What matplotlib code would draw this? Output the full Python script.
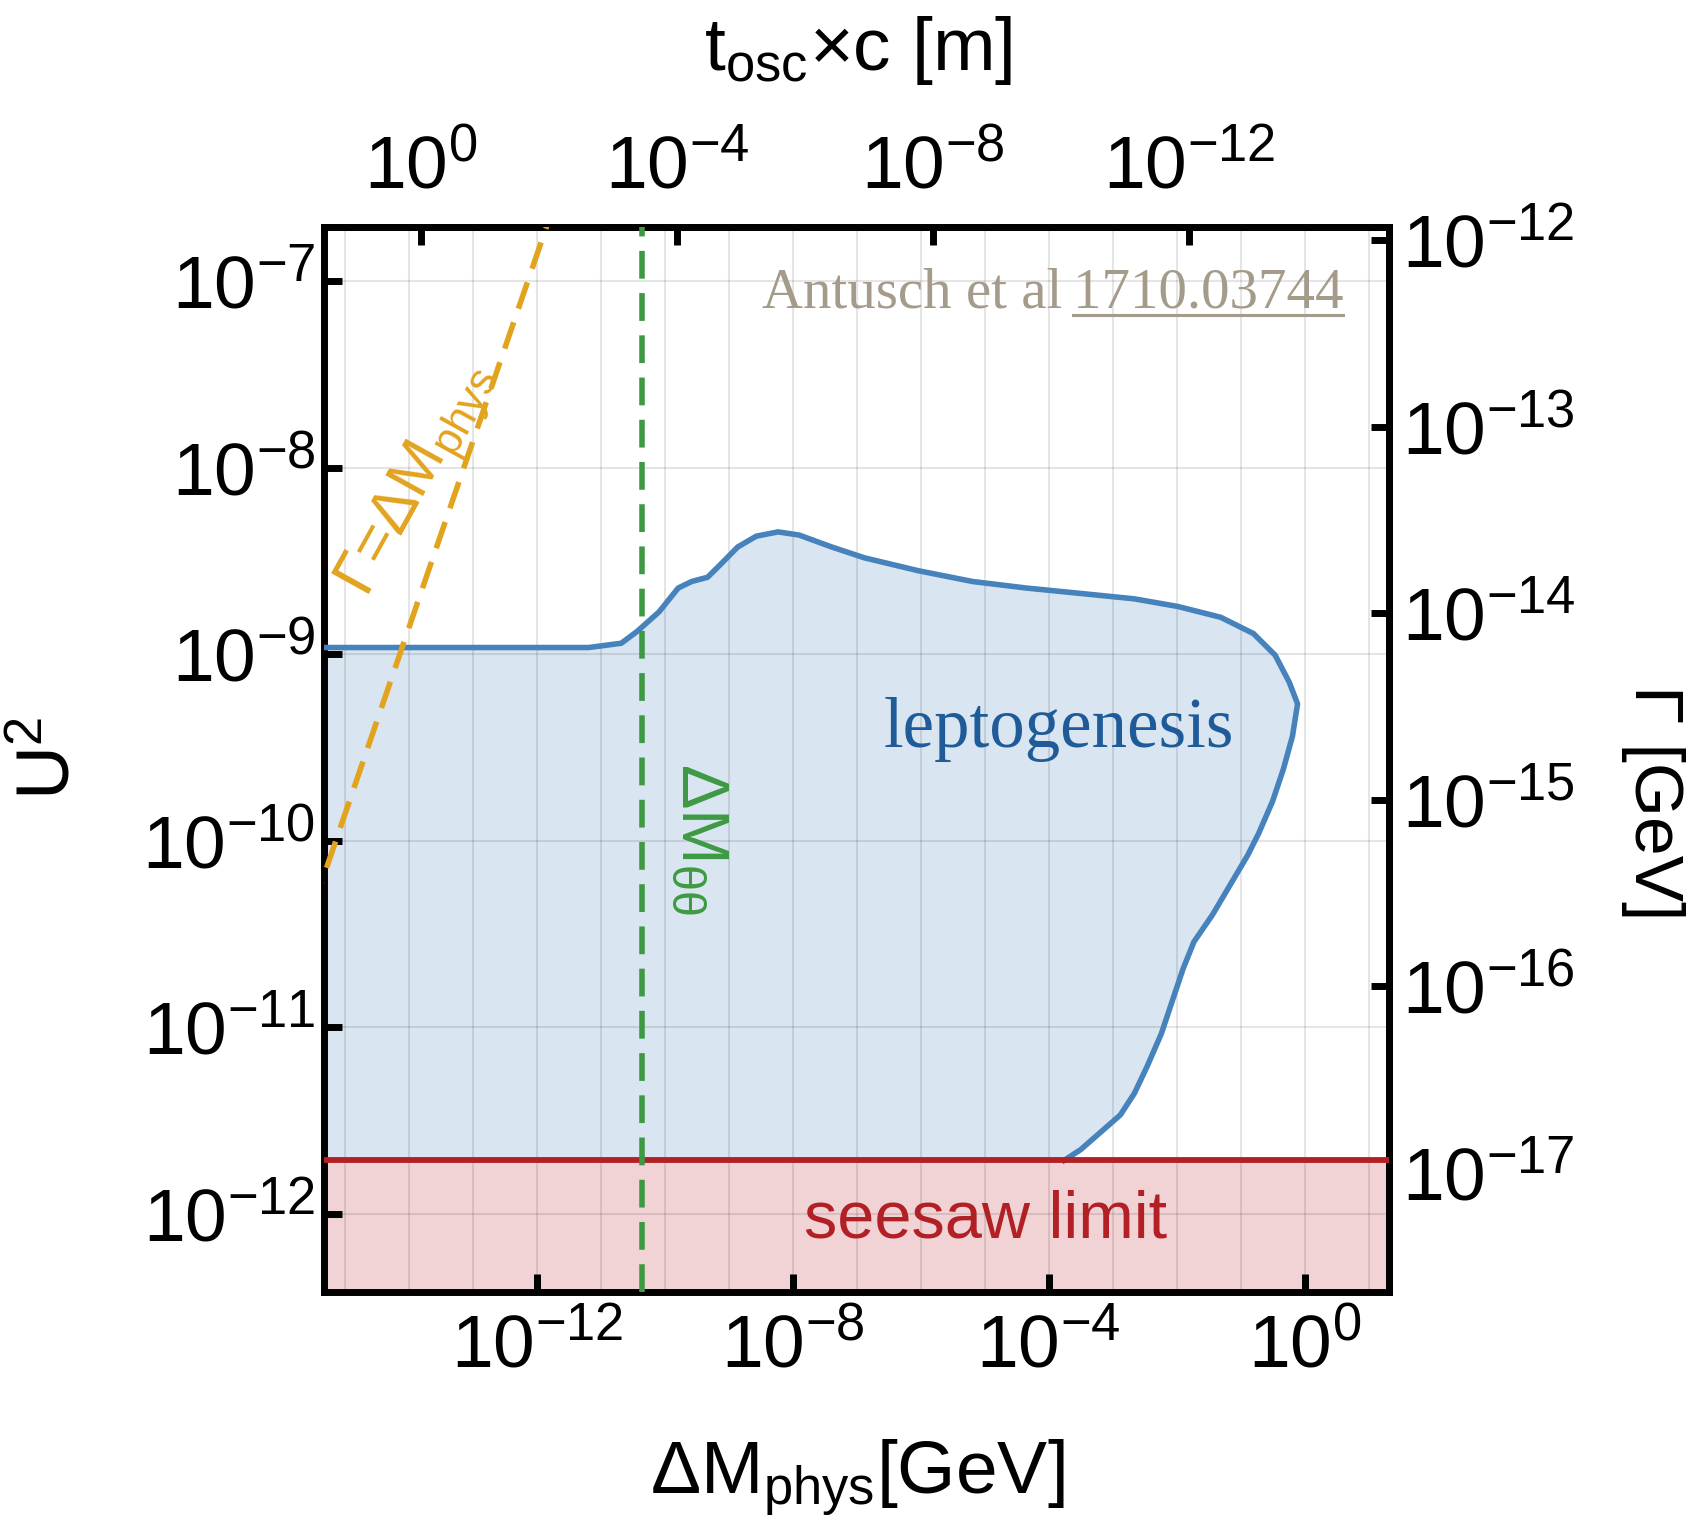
import numpy as np
import matplotlib
matplotlib.use("Agg")
import matplotlib.pyplot as plt
from matplotlib.ticker import FixedLocator, NullFormatter, NullLocator
from matplotlib.lines import Line2D

plt.rcParams['font.family'] = ['Liberation Sans', 'DejaVu Sans']
plt.rcParams['mathtext.fontset'] = 'custom'
plt.rcParams['mathtext.rm'] = 'Liberation Sans'
plt.rcParams['mathtext.it'] = 'Liberation Sans:italic'
plt.rcParams['mathtext.bf'] = 'Liberation Sans:bold'

# leptogenesis boundary, log10(dM_phys / GeV) and log10(U^2)
lepto_logdm = [-15.33, -11.19, -10.68, -10.43, -10.09, -9.79, -9.58, -9.33, -9.11,
               -8.86, -8.57, -8.23, -7.90, -7.39, -6.88, -6.04, -5.19, -4.35,
               -3.50, -2.66, -1.98, -1.31, -0.80, -0.46, -0.24, -0.11, -0.19,
               -0.33, -0.50, -0.72, -0.89, -1.14, -1.44, -1.73, -1.90, -2.07,
               -2.24, -2.46, -2.66, -2.88, -3.17, -3.50, -3.76]
lepto_logu2 = [-8.965, -8.965, -8.942, -8.878, -8.774, -8.646, -8.611, -8.588, -8.513,
               -8.426, -8.368, -8.345, -8.362, -8.426, -8.484, -8.553, -8.611, -8.646,
               -8.675, -8.704, -8.745, -8.803, -8.890, -9.006, -9.151, -9.267, -9.441,
               -9.615, -9.789, -9.963, -10.079, -10.224, -10.398, -10.543, -10.688, -10.862,
               -11.036, -11.210, -11.355, -11.471, -11.558, -11.657, -11.715]

seesaw_logu2 = -11.715
dm_thth_log = -10.36
gamma_line_logdm = [-15.5, -11.7]
gamma_line_logu2 = [-10.36, -6.56]

gamma_shift = -5.22    # log10(Gamma / U^2)
tosc_shift = -13.81    # log10(t_osc c * dM_phys)

xlim_log = (-15.33, 1.32)
ylim_log = (-12.42, -6.71)

x_ticks = [1e-12, 1e-8, 1e-4, 1e0]
top_ticks = [1e0, 1e-4, 1e-8, 1e-12]
y_ticks = [1e-12, 1e-11, 1e-10, 1e-9, 1e-8, 1e-7]
g_ticks = [1e-17, 1e-16, 1e-15, 1e-14, 1e-13, 1e-12]

blue = '#4682bb'
blue_fill = '#d9e5f0'
red = '#b22025'
red_fill = '#f1d3d5'
green = '#3d9a42'
orange = '#e2a41f'
gray_txt = '#a59b8b'

fig = plt.figure(figsize=(16.95, 15.23), dpi=100)
ax = fig.add_axes([0.191, 0.1517, 0.6285, 0.6993])
ax.set_xscale('log')
ax.set_yscale('log')
ax.set_xlim(10 ** xlim_log[0], 10 ** xlim_log[1])
ax.set_ylim(10 ** ylim_log[0], 10 ** ylim_log[1])

dm = 10 ** np.array(lepto_logdm)
u2 = 10 ** np.array(lepto_logu2)
seesaw = 10 ** seesaw_logu2

# regions
poly_x = np.concatenate([dm, [dm[0]]])
poly_y = np.concatenate([u2, [seesaw]])
ax.fill(poly_x, poly_y, color=blue_fill, lw=0, zorder=1)
ax.axhspan(10 ** ylim_log[0], seesaw, color=red_fill, lw=0, zorder=1)

ax.plot(dm, u2, color=blue, lw=4, zorder=3, solid_joinstyle='round')
ax.axhline(seesaw, color=red, lw=4.2, zorder=3)
ax.axvline(10 ** dm_thth_log, color=green, lw=4, dashes=(5, 2.6), zorder=4)
ax.plot(10 ** np.array(gamma_line_logdm), 10 ** np.array(gamma_line_logu2),
        color=orange, lw=4, dashes=(5, 2.6), zorder=4)

# grid on every decade
ax.xaxis.set_major_locator(FixedLocator(x_ticks))
ax.xaxis.set_minor_locator(FixedLocator([10.0 ** k for k in range(-15, 2)]))
ax.xaxis.set_minor_formatter(NullFormatter())
ax.yaxis.set_major_locator(FixedLocator(y_ticks))
ax.yaxis.set_minor_locator(NullLocator())
ax.grid(True, which='both', color='black', alpha=0.1, lw=1.5)
ax.set_axisbelow(False)

for s in ax.spines.values():
    s.set_linewidth(5)
ax.tick_params(which='major', direction='in', length=13, width=5, labelsize=54)
ax.tick_params(axis='x', which='major', pad=15)
ax.tick_params(axis='y', which='major', pad=6)
ax.tick_params(which='minor', length=0)

# secondary axes
top = ax.secondary_xaxis('top', functions=(lambda x: 10 ** tosc_shift / x,
                                            lambda t: 10 ** tosc_shift / t))
top.set_xticks(top_ticks)
top.xaxis.set_minor_locator(NullLocator())
top.tick_params(direction='in', length=13, width=5, labelsize=54, pad=17)
top.spines['top'].set_linewidth(5)

right = ax.secondary_yaxis('right', functions=(lambda u: u * 10 ** gamma_shift,
                                               lambda g: g / 10 ** gamma_shift))
right.set_yticks(g_ticks)
right.yaxis.set_minor_locator(NullLocator())
right.tick_params(direction='in', length=13, width=5, labelsize=54, pad=9)
right.spines['right'].set_linewidth(5)

# axis labels
fig.text(0.506, 0.954, r't$_{\mathregular{osc}}$×c [m]', fontsize=54, ha='center', va='baseline')
fig.text(0.506, 0.019, r'ΔM$_{\mathregular{phys}}$[GeV]', fontsize=54, ha='center', va='baseline')
fig.text(0.029, 0.502, r'U$^{\mathregular{2}}$', fontsize=54, ha='center', va='center', rotation=90)
fig.text(0.975, 0.473, 'Γ [GeV]', fontsize=50, ha='center', va='center', rotation=270)

# annotations
ax.text(10 ** -6.58, 10 ** -9.50, 'leptogenesis', family=['Liberation Serif'],
        fontsize=51, color='#1f5b99', ha='left', va='baseline', zorder=5)
ax.text(10 ** -4.99, 10 ** -12.13, 'seesaw limit', family=['Liberation Sans Narrow', 'Liberation Sans'],
        fontsize=48, color=red, ha='center', va='baseline', zorder=5)
ax.text(10 ** -9.45, 10 ** -9.586, r'ΔM$_{\mathregular{θθ}}$', fontsize=48, color=green,
        ha='center', va='top', rotation=-90, zorder=5)
ax.text(10 ** -13.85, 10 ** -8.07, r'Γ=ΔM$_{\mathregular{phys}}$', fontsize=45, color=orange,
        ha='center', va='center', rotation=61, rotation_mode='anchor', zorder=5)

ref = ax.text(0.957, 0.924, '1710.03744', family=['Liberation Serif'], fontsize=41,
              color=gray_txt, ha='right', va='baseline', transform=ax.transAxes, zorder=5)
fig.canvas.draw()
bb = ref.get_window_extent()
inv = ax.transAxes.inverted()
x0_ax = inv.transform((bb.x0, bb.y0))[0]
ax.text(x0_ax - 0.01, 0.924, 'Antusch et al', family=['Liberation Serif'], fontsize=41,
        color=gray_txt, ha='right', va='baseline', transform=ax.transAxes, zorder=5)
W, H = fig.get_size_inches() * fig.dpi
base_y = ax.transAxes.transform((0, 0.924))[1]
fig.add_artist(Line2D([bb.x0 / W, bb.x1 / W], [(base_y - 7) / H, (base_y - 7) / H],
                      color=gray_txt, lw=2.2))

fig.savefig('out.png', dpi=100)
